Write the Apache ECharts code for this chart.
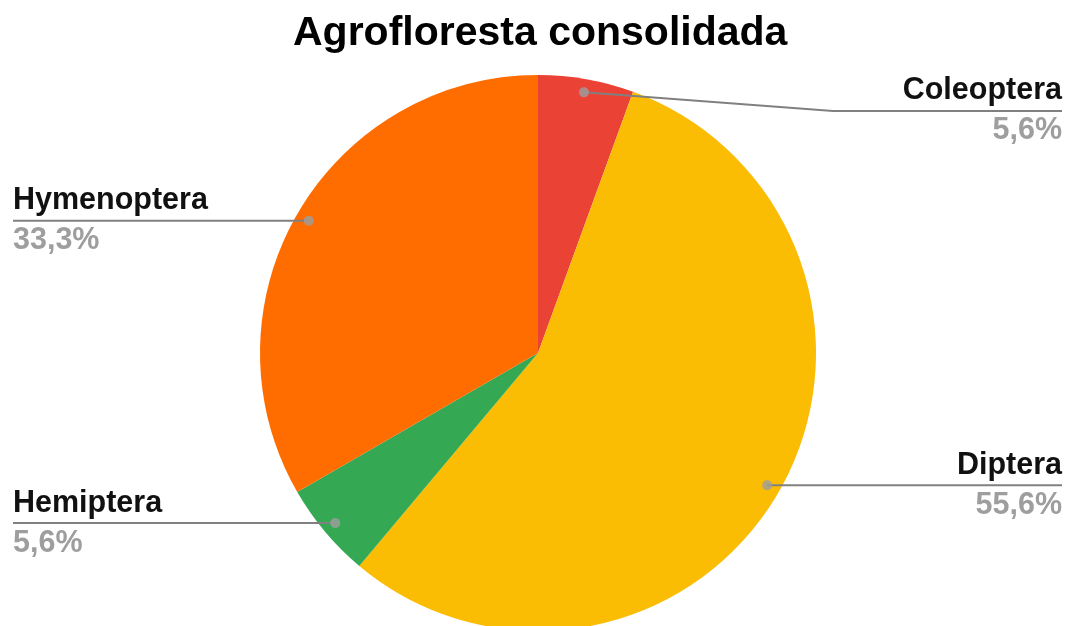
<!DOCTYPE html>
<html>
<head>
<meta charset="utf-8">
<title>Agrofloresta consolidada</title>
<script src="https://cdn.jsdelivr.net/npm/echarts@6/dist/echarts.min.js"></script>
<style>
  html, body { margin: 0; padding: 0; background: #fff; }
  #chart { width: 1069px; height: 626px; }
</style>
</head>
<body>
<div id="chart"></div>
<script>
// Insect orders found in the consolidated agroforest
const categories = ['Coleoptera', 'Diptera', 'Hemiptera', 'Hymenoptera'];
const counts = [1, 10, 1, 6];
const sliceColors = ['#ea4335', '#fbbc04', '#34a853', '#ff6d01'];
const titleText = 'Agrofloresta consolidada';

// Layout
const CX = 538, CY = 353, R = 278;
const DOT_R = 0.952;           // marker ring, as a share of the radius
const LEFT_EDGE = 13, RIGHT_EDGE = 1062;
const FONT = '"Liberation Sans", Arial, sans-serif';

const total = counts.reduce((a, b) => a + b, 0);
const mids = [];
let acc = 0;
counts.forEach(v => { mids.push(acc + v / 2); acc += v; });

function pct(v) {
  return (v / total * 100).toFixed(1).replace('.', ',') + '%';
}
function markerPoint(i) {
  const a = mids[i] / total * 2 * Math.PI;
  return [CX + R * DOT_R * Math.sin(a), CY - R * DOT_R * Math.cos(a)];
}

const pieData = categories.map((name, i) => ({ name, value: counts[i] }));

const pieBase = {
  type: 'pie',
  center: [CX, CY],
  radius: [0, R],
  startAngle: 90,
  clockwise: true,
  avoidLabelOverlap: false,
  silent: true
};

const chart = echarts.init(document.getElementById('chart'), null, { renderer: 'canvas' });

chart.setOption({
  backgroundColor: '#ffffff',
  animation: false,
  title: {
    text: titleText,
    left: 288,
    top: 8,
    textStyle: { fontFamily: FONT, fontSize: 41, fontWeight: 'bold', color: '#000' }
  },
  polar: { center: [CX, CY], radius: [0, R] },
  angleAxis: { type: 'value', min: 0, max: total, startAngle: 90, clockwise: true, show: false },
  radiusAxis: { type: 'value', min: 0, max: 1, show: false },
  series: [
    // filled slices
    Object.assign({}, pieBase, {
      data: pieData.map((d, i) => ({ name: d.name, value: d.value, itemStyle: { color: sliceColors[i] } })),
      itemStyle: { borderWidth: 0 },
      label: { show: false },
      labelLine: { show: false },
      z: 2
    }),
    // transparent overlay carrying the labels and leader lines above the slices
    Object.assign({}, pieBase, {
      data: pieData,
      itemStyle: { color: 'rgba(0,0,0,0)', borderWidth: 0 },
      label: {
        show: true,
        position: 'outside',
        fontFamily: FONT,
        formatter: p => '{n|' + p.name + '}\n{p|' + pct(p.value) + '}',
        rich: {
          n: { fontFamily: FONT, fontSize: 30.5, fontWeight: 'bold', color: '#111', lineHeight: 40 },
          p: { fontFamily: FONT, fontSize: 30.5, fontWeight: 'bold', color: '#9e9e9e', lineHeight: 40 }
        }
      },
      labelLine: {
        show: true,
        lineStyle: { color: '#808080', width: 2 }
      },
      labelLayout: params => {
        const i = params.dataIndex;
        const dot = markerPoint(i);
        const right = dot[0] > CX;
        const edge = right ? RIGHT_EDGE : LEFT_EDGE;
        // the small top slice gets a bent leader down to its label row
        let y = dot[1], bend = dot[0];
        if (i === 0) { y = 111; bend = 833; }
        return {
          x: edge,
          y: y,
          align: right ? 'right' : 'left',
          verticalAlign: 'middle',
          labelLinePoints: [dot, [bend, y], [edge, y]]
        };
      },
      z: 3
    }),
    {
      type: 'scatter',
      coordinateSystem: 'polar',
      symbol: 'circle',
      symbolSize: 10,
      itemStyle: { color: '#9e9e9e' },
      silent: true,
      data: mids.map(m => [DOT_R, m]),
      z: 5
    }
  ]
});
</script>
</body>
</html>
